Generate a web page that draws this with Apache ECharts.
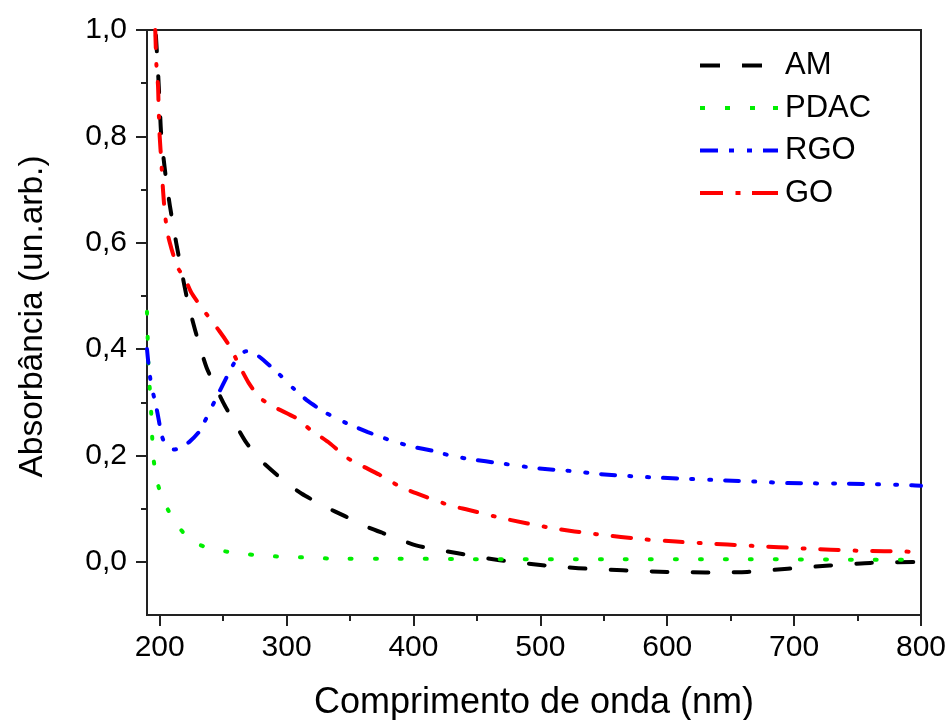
<!DOCTYPE html>
<html>
<head>
<meta charset="utf-8">
<script src="https://cdn.jsdelivr.net/npm/echarts@6/dist/echarts.min.js"></script>
<style>html,body{margin:0;padding:0;background:#fff;}#c{width:950px;height:720px;}</style>
</head>
<body>
<div id="c"></div>
<script>
const seriesNames = ['AM', 'PDAC', 'RGO', 'GO'];
const xMajorTicks = [200, 300, 400, 500, 600, 700, 800];
const xMinorTicks = [250, 350, 450, 550, 650, 750];
const yMajorTicks = [0, 0.2, 0.4, 0.6, 0.8, 1.0];
const yMinorTicks = [0.1, 0.3, 0.5, 0.7, 0.9];

const amData = [[197,0.99],[198.5,0.93],[200,0.86],[201,0.81],[203,0.76],[205,0.72],[208,0.67],[213,0.60],[217,0.55],[222,0.49],[228,0.435],[237,0.365],[250,0.30],[257,0.27],[268,0.225],[280,0.19],[300,0.148],[312,0.128],[330,0.104],[346,0.086],[363,0.066],[376,0.054],[402,0.031],[435,0.016],[468,0.003],[500,-0.006],[530,-0.012],[565,-0.016],[600,-0.019],[630,-0.020],[663,-0.019],[695,-0.013],[728,-0.007],[760,-0.002],[800,0.0]];
const pdacData = [[190,0.47],[190.5,0.425],[191,0.377],[192,0.333],[193.2,0.286],[194,0.239],[195.2,0.192],[198.7,0.145],[202,0.12],[206.5,0.098],[212,0.075],[219.7,0.052],[228,0.036],[239.4,0.025],[259,0.017],[279,0.012],[298,0.0094],[318,0.008],[337,0.006],[376,0.006],[450,0.005],[550,0.005],[650,0.005],[750,0.004],[800,0.004]];
const rgoData = [[190,0.40],[191,0.375],[192,0.355],[193.5,0.33],[195.5,0.31],[197.4,0.29],[199.4,0.265],[201.3,0.24],[204,0.222],[207,0.214],[210.5,0.211],[215,0.213],[223.6,0.226],[231.5,0.246],[239.4,0.283],[246,0.315],[252.5,0.346],[258,0.371],[263,0.388],[268,0.396],[274,0.393],[281,0.381],[294.5,0.352],[305,0.327],[317,0.302],[331,0.28],[347,0.261],[364,0.244],[380,0.23],[398,0.217],[416.5,0.208],[430,0.199],[448,0.192],[466,0.186],[497,0.176],[528,0.17],[546,0.165],[578,0.160],[596,0.158],[646,0.153],[678,0.150],[695,0.148],[743,0.147],[793,0.144],[800,0.143]];
const goData = [[196.5,1.0],[197.4,0.935],[198.7,0.895],[199.2,0.852],[200,0.80],[201.3,0.752],[202.6,0.70],[204,0.657],[206,0.62],[208,0.60],[211,0.575],[215,0.55],[220,0.532],[225,0.506],[234,0.475],[247,0.434],[255,0.406],[263,0.368],[270,0.337],[279,0.308],[292,0.289],[307,0.271],[319,0.248],[334,0.223],[348,0.195],[373,0.164],[389,0.142],[402,0.129],[430,0.105],[443,0.098],[470,0.082],[510,0.063],[544,0.052],[583,0.042],[607,0.038],[628,0.035],[667,0.030],[709,0.025],[749,0.021],[793,0.019],[800,0.018]];

const FONT = '"Liberation Sans", Arial, sans-serif';
const chart = echarts.init(document.getElementById('c'), null, {renderer: 'canvas'});

// legend sample icons (78 x 4 box), imitating each line's dash pattern
const legendIcons = {
  AM: 'path://M0,0L20,0L20,4L0,4Z M42,0L62,0L62,4L42,4Z M78,4',
  PDAC: 'path://M0,0L5,0L5,4L0,4Z M25,0L30,0L30,4L25,4Z M50,0L55,0L55,4L50,4Z M73,0L78,0L78,4L73,4Z',
  RGO: 'path://M0,0L18,0L18,4L0,4Z M29,0L34,0L34,4L29,4Z M47,0L52,0L52,4L47,4Z M63,0L78,0L78,4L63,4Z',
  GO: 'path://M0,0L23,0L23,4L0,4Z M35.5,0L40.5,0L40.5,4L35.5,4Z M52,0L78,0L78,4L52,4Z'
};

function mkSeries(name, data, color, dash) {
  return {
    name: name, type: 'line', data: data, xAxisIndex: 0, yAxisIndex: 0,
    showSymbol: false, symbol: 'none', smooth: 0.2, animation: false,
    lineStyle: {color: color, width: 4, type: dash, cap: 'round', join: 'round'},
    itemStyle: {color: color}
  };
}

const option = {
  animation: false,
  backgroundColor: '#fff',
  textStyle: {fontFamily: FONT},
  grid: {left: 147, right: 29, top: 30, bottom: 105, containLabel: false, outerBoundsMode: 'none',
    show: true, borderColor: '#222', borderWidth: 2, backgroundColor: 'transparent'},
  legend: {
    data: seriesNames.map(n => ({name: n, icon: legendIcons[n]})),
    orient: 'vertical', left: 695, top: 45, padding: 5,
    itemWidth: 78, itemHeight: 4, itemGap: 11.5,
    textStyle: {fontSize: 31, color: '#000', fontFamily: FONT, padding: [0, 0, 0, 2]}
  },
  xAxis: [
    {
      type: 'value', min: 190, max: 800,
      name: 'Comprimento de onda (nm)', nameLocation: 'middle', nameGap: 70,
      nameTextStyle: {fontSize: 36, color: '#000', fontFamily: FONT},
      axisLine: {show: true, onZero: false, lineStyle: {color: '#222', width: 2}},
      axisTick: {show: true, inside: false, length: 11, customValues: xMajorTicks, lineStyle: {color: '#222', width: 2}},
      axisLabel: {show: true, customValues: xMajorTicks, fontSize: 30, color: '#000', margin: 18, fontFamily: FONT},
      splitLine: {show: false}
    },
    {
      type: 'value', min: 190, max: 800, position: 'bottom',
      axisLine: {show: false, onZero: false},
      axisTick: {show: true, inside: false, length: 6, customValues: xMinorTicks, lineStyle: {color: '#222', width: 2}},
      axisLabel: {show: false},
      splitLine: {show: false}
    }
  ],
  yAxis: [
    {
      type: 'value', min: -0.1, max: 1.0,
      name: 'Absorbância (un.arb.)', nameLocation: 'middle', nameGap: 97, nameRotate: 90,
      nameTextStyle: {fontSize: 33.5, color: '#000', fontFamily: FONT, padding: [0, 0, 0, 12]},
      axisLine: {show: true, onZero: false, lineStyle: {color: '#222', width: 2}},
      axisTick: {show: true, inside: false, length: 11, customValues: yMajorTicks, lineStyle: {color: '#222', width: 2}},
      axisLabel: {show: true, customValues: yMajorTicks, fontSize: 30, color: '#000', margin: 20, fontFamily: FONT,
        formatter: v => Number(v).toFixed(1).replace('.', ',')},
      splitLine: {show: false}
    },
    {
      type: 'value', min: -0.1, max: 1.0, position: 'left',
      axisLine: {show: false, onZero: false},
      axisTick: {show: true, inside: false, length: 6, customValues: yMinorTicks, lineStyle: {color: '#222', width: 2}},
      axisLabel: {show: false},
      splitLine: {show: false}
    }
  ],
  series: [
    mkSeries('AM', amData, '#000000', [16, 25]),
    mkSeries('PDAC', pdacData, '#00ee00', [2, 23]),
    mkSeries('RGO', rgoData, '#0000ff', [14, 14, 2, 16, 2, 14]),
    mkSeries('GO', goData, '#ff0000', [18, 16, 2, 16])
  ]
};
chart.setOption(option);
</script>
</body>
</html>
